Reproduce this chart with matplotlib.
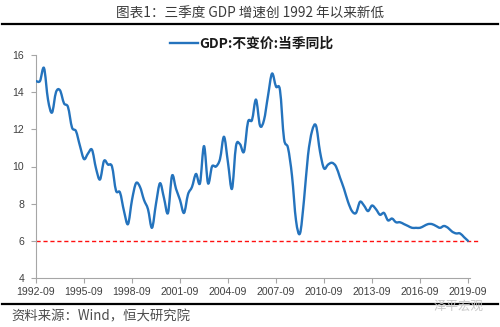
import matplotlib
matplotlib.use("Agg")
import matplotlib.pyplot as plt
from matplotlib.lines import Line2D
from matplotlib.path import Path
from matplotlib.patches import PathPatch

# Quarterly real GDP growth, y/y (%), 1992-Q3 .. 2019-Q3
gdp_yoy = [
    14.6, 14.6, 15.3, 13.6, 12.9, 14.0, 14.1, 13.4, 13.2, 12.1,
    11.9, 11.1, 10.4, 10.7, 10.9, 9.9, 9.3, 10.3, 10.1, 10.0,
    8.7, 8.6, 7.6, 6.9, 8.2, 9.1, 8.9, 8.2, 7.7, 6.7,
    8.0, 9.1, 8.3, 7.5, 9.5, 8.8, 8.2, 7.5, 8.5, 8.9,
    9.6, 9.1, 11.1, 9.1, 10.0, 10.0, 10.4, 11.6, 10.2, 8.8,
    11.1, 11.2, 10.8, 12.4, 12.5, 13.6, 12.2, 12.5, 13.8, 15.0,
    14.3, 14.1, 11.5, 11.0, 9.5, 7.1, 6.4, 8.2, 10.6, 11.9,
    12.2, 10.8, 9.9, 10.1, 10.2, 10.0, 9.4, 8.8, 8.1, 7.6,
    7.5, 8.1, 7.9, 7.6, 7.9, 7.7, 7.4, 7.5, 7.1, 7.2,
    7.0, 7.0, 6.9, 6.8, 6.7, 6.7, 6.7, 6.8, 6.9, 6.9,
    6.8, 6.7, 6.8, 6.7, 6.5, 6.4, 6.4, 6.2, 6.0,
]
tick_labels = ["1992-09", "1995-09", "1998-09", "2001-09", "2004-09",
               "2007-09", "2010-09", "2013-09", "2016-09", "2019-09"]
y_ticks = [4, 6, 8, 10, 12, 14, 16]
ref_level = 6
series_name = "GDP:不变价:当季同比"
title = "图表1：三季度 GDP 增速创 1992 年以来新低"
source = "资料来源：Wind，恒大研究院"
watermark = "泽平宏观"

CJK = ["Noto Sans CJK SC", "DejaVu Sans"]
W, H = 500, 327
LINE_COLOR = "#2473BD"


def smooth_path(xs, ys, tension=1 / 6):
    """Cubic Bezier path passing through every point (Catmull-Rom style)."""
    n = len(xs)
    verts = [(xs[0], ys[0])]
    codes = [Path.MOVETO]
    for i in range(n - 1):
        x0, y0 = (xs[i - 1], ys[i - 1]) if i > 0 else (xs[i], ys[i])
        x1, y1 = xs[i], ys[i]
        x2, y2 = xs[i + 1], ys[i + 1]
        x3, y3 = (xs[i + 2], ys[i + 2]) if i + 2 < n else (x2, y2)
        c1 = (x1 + (x2 - x0) * tension, y1 + (y2 - y0) * tension)
        c2 = (x2 - (x3 - x1) * tension, y2 - (y3 - y1) * tension)
        verts += [c1, c2, (x2, y2)]
        codes += [Path.CURVE4] * 3
    return Path(verts, codes)


fig = plt.figure(figsize=(W / 100, H / 100), dpi=100)
fig.patch.set_facecolor("white")
ax = fig.add_axes([36 / W, 49 / H, 434 / W, 223 / H])

quarters = list(range(len(gdp_yoy)))
ax.add_patch(PathPatch(smooth_path(quarters, gdp_yoy), facecolor="none",
                       edgecolor=LINE_COLOR, lw=1.7, joinstyle="round",
                       capstyle="round", zorder=3))
legend_handle = Line2D([], [], color=LINE_COLOR, lw=1.7)

# 6% reference line
ax.plot([0, 1.018], [ref_level, ref_level], transform=ax.get_yaxis_transform(),
        color="#FF1010", lw=1.0, dashes=(3, 2), clip_on=False, zorder=2)

ax.set_xlim(0, len(gdp_yoy) - 0.5)
ax.set_ylim(4, 16)
ax.set_yticks(y_ticks)
ax.set_yticklabels([str(v) for v in y_ticks])
ax.set_xticks(list(range(0, len(gdp_yoy), 12)))
ax.set_xticklabels(tick_labels)

for s in ("top", "right"):
    ax.spines[s].set_visible(False)
for s in ("left", "bottom"):
    ax.spines[s].set_color("#A6A6A6")
    ax.spines[s].set_linewidth(0.8)

ax.tick_params(axis="both", direction="out", length=3.5, width=0.8,
               color="#A6A6A6", labelcolor="#404040")
ax.tick_params(axis="y", pad=5)
ax.tick_params(axis="x", pad=3)
for lab in ax.get_xticklabels() + ax.get_yticklabels():
    lab.set_fontfamily("Liberation Sans")
    lab.set_fontsize(7.6)

leg = ax.legend([legend_handle], [series_name], loc="center",
                bbox_to_anchor=(0.503, 1 - 44 / H),
                bbox_transform=fig.transFigure, frameon=False,
                handlelength=2.0, handletextpad=0.1,
                prop={"family": CJK, "weight": "bold", "size": 9.9})
for t in leg.get_texts():
    t.set_color("#1A1A1A")

# header and footer
fig.text(0.5, 1 - 14 / H, title, ha="center", va="center",
         family=CJK, fontsize=9.8, color="#3A3A3A")
fig.add_artist(Line2D([2 / W, 498 / W], [1 - 23.5 / H] * 2,
                      color="black", lw=1.6))
fig.add_artist(Line2D([2 / W, 498 / W], [1 - 304 / H] * 2,
                      color="black", lw=1.6))
fig.text(11 / W, 1 - 316 / H, source, ha="left", va="center",
         family=CJK, fontsize=9.6, color="#4D4D4D", style="italic")
fig.text(484 / W, 1 - 306 / H, watermark, ha="right", va="center",
         family=CJK, fontsize=9, color="#C8C8C8")

fig.savefig("out.png", dpi=100, facecolor="white")
